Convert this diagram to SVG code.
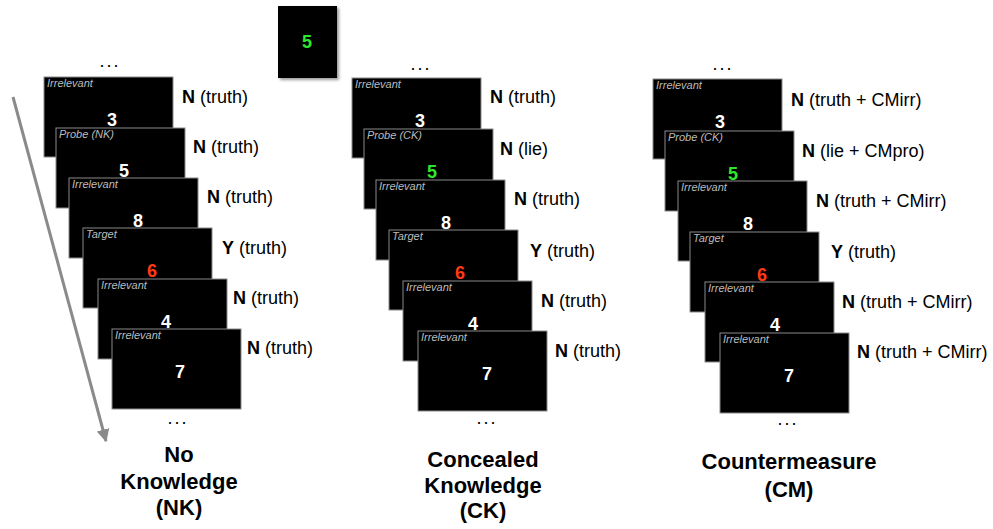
<svg xmlns="http://www.w3.org/2000/svg" width="993" height="529" viewBox="0 0 993 529">
<style>
  text { font-family: "Liberation Sans", Arial, sans-serif; }
  .card { fill: #000; stroke: #8a8a8a; stroke-width: 1; }
  .tag { fill: #bcbcbc; font-size: 11px; font-style: italic; }
  .dig { fill: #fff; font-size: 18px; font-weight: bold; text-anchor: middle; }
  .green { fill: #2ee62e; }
  .red { fill: #ff3a14; }
  .resp { fill: #000; font-size: 18px; }
  .resp tspan.b { font-weight: bold; }
  .dots { fill: #000; font-size: 18px; letter-spacing: 2px; text-anchor: middle; }
  .title { fill: #000; font-size: 22px; font-weight: bold; text-anchor: middle; }
</style>
<defs>
  <marker id="ah" viewBox="0 0 10 10" refX="9" refY="5" markerWidth="4.3" markerHeight="4.3" orient="auto" markerUnits="strokeWidth">
    <path d="M0,0 L10,5 L0,10 z" fill="#8a8a8a"/>
  </marker>
  <filter id="sh" x="-20%" y="-20%" width="150%" height="150%">
    <feDropShadow dx="2" dy="2" stdDeviation="1.5" flood-color="#000" flood-opacity="0.4"/>
  </filter>
</defs>
<rect width="993" height="529" fill="#fff"/>

<g id="connectors">
  <line x1="13" y1="97" x2="106" y2="441" stroke="#8a8a8a" stroke-width="3" marker-end="url(#ah)"/>
</g>

<g id="cue">
  <rect x="278" y="6" width="59" height="72" fill="#000" filter="url(#sh)"/>
  <text class="dig green" x="307" y="48">5</text>
</g>

<!-- Left column: No Knowledge -->
<g id="nk">
  <text class="dots" x="110" y="67">...</text>
  <g id="nk1"><rect class="card" x="44" y="77" width="129" height="80"/><text class="tag" x="47" y="87">Irrelevant</text><text class="dig" x="112" y="126">3</text><text class="resp" x="182" y="103"><tspan class="b">N</tspan> (truth)</text></g>
  <g id="nk2"><rect class="card" x="56" y="128" width="129" height="80"/><text class="tag" x="59" y="138">Probe (NK)</text><text class="dig" x="124" y="177">5</text><text class="resp" x="193" y="153"><tspan class="b">N</tspan> (truth)</text></g>
  <g id="nk3"><rect class="card" x="69" y="178" width="129" height="80"/><text class="tag" x="72" y="188">Irrelevant</text><text class="dig" x="138" y="227">8</text><text class="resp" x="207" y="203"><tspan class="b">N</tspan> (truth)</text></g>
  <g id="nk4"><rect class="card" x="83" y="228" width="129" height="80"/><text class="tag" x="86" y="238">Target</text><text class="dig red" x="152" y="277">6</text><text class="resp" x="222" y="254"><tspan class="b">Y</tspan> (truth)</text></g>
  <g id="nk5"><rect class="card" x="98" y="279" width="129" height="80"/><text class="tag" x="101" y="289">Irrelevant</text><text class="dig" x="166" y="328">4</text><text class="resp" x="233" y="304"><tspan class="b">N</tspan> (truth)</text></g>
  <g id="nk6"><rect class="card" x="112" y="329" width="129" height="80"/><text class="tag" x="115" y="339">Irrelevant</text><text class="dig" x="180" y="378">7</text><text class="resp" x="247" y="354"><tspan class="b">N</tspan> (truth)</text></g>
  <text class="dots" x="178" y="424">...</text>
  <text class="title" x="179" y="462">No</text>
  <text class="title" x="179" y="489">Knowledge</text>
  <text class="title" x="179" y="515">(NK)</text>
</g>

<!-- Middle column: Concealed Knowledge -->
<g id="ck">
  <text class="dots" x="421" y="70">...</text>
  <g id="ck1"><rect class="card" x="352" y="78" width="129" height="80"/><text class="tag" x="355" y="88">Irrelevant</text><text class="dig" x="420" y="127">3</text><text class="resp" x="490" y="103"><tspan class="b">N</tspan> (truth)</text></g>
  <g id="ck2"><rect class="card" x="364" y="129" width="129" height="80"/><text class="tag" x="367" y="139">Probe (CK)</text><text class="dig green" x="432" y="178">5</text><text class="resp" x="500" y="155"><tspan class="b">N</tspan> (lie)</text></g>
  <g id="ck3"><rect class="card" x="376" y="180" width="129" height="80"/><text class="tag" x="379" y="190">Irrelevant</text><text class="dig" x="446" y="229">8</text><text class="resp" x="514" y="205"><tspan class="b">N</tspan> (truth)</text></g>
  <g id="ck4"><rect class="card" x="389" y="230" width="129" height="80"/><text class="tag" x="392" y="240">Target</text><text class="dig red" x="460" y="279">6</text><text class="resp" x="530" y="257"><tspan class="b">Y</tspan> (truth)</text></g>
  <g id="ck5"><rect class="card" x="403" y="281" width="129" height="80"/><text class="tag" x="406" y="291">Irrelevant</text><text class="dig" x="473" y="330">4</text><text class="resp" x="541" y="307"><tspan class="b">N</tspan> (truth)</text></g>
  <g id="ck6"><rect class="card" x="418" y="331" width="129" height="80"/><text class="tag" x="421" y="341">Irrelevant</text><text class="dig" x="487" y="380">7</text><text class="resp" x="555" y="357"><tspan class="b">N</tspan> (truth)</text></g>
  <text class="dots" x="487" y="424">...</text>
  <text class="title" x="483" y="467">Concealed</text>
  <text class="title" x="483" y="493">Knowledge</text>
  <text class="title" x="483" y="518">(CK)</text>
</g>

<!-- Right column: Countermeasure -->
<g id="cm">
  <text class="dots" x="723" y="70">...</text>
  <g id="cm1"><rect class="card" x="653" y="79" width="129" height="80"/><text class="tag" x="656" y="89">Irrelevant</text><text class="dig" x="720" y="128">3</text><text class="resp" x="791" y="106"><tspan class="b">N</tspan> (truth + CMirr)</text></g>
  <g id="cm2"><rect class="card" x="665" y="131" width="129" height="80"/><text class="tag" x="668" y="141">Probe (CK)</text><text class="dig green" x="733" y="180">5</text><text class="resp" x="802" y="157"><tspan class="b">N</tspan> (lie + CMpro)</text></g>
  <g id="cm3"><rect class="card" x="678" y="181" width="129" height="80"/><text class="tag" x="681" y="191">Irrelevant</text><text class="dig" x="748" y="230">8</text><text class="resp" x="816" y="207"><tspan class="b">N</tspan> (truth + CMirr)</text></g>
  <g id="cm4"><rect class="card" x="690" y="232" width="129" height="80"/><text class="tag" x="693" y="242">Target</text><text class="dig red" x="762" y="281">6</text><text class="resp" x="831" y="258"><tspan class="b">Y</tspan> (truth)</text></g>
  <g id="cm5"><rect class="card" x="705" y="282" width="129" height="80"/><text class="tag" x="708" y="292">Irrelevant</text><text class="dig" x="775" y="331">4</text><text class="resp" x="842" y="308"><tspan class="b">N</tspan> (truth + CMirr)</text></g>
  <g id="cm6"><rect class="card" x="720" y="333" width="129" height="80"/><text class="tag" x="723" y="343">Irrelevant</text><text class="dig" x="789" y="382">7</text><text class="resp" x="857" y="358"><tspan class="b">N</tspan> (truth + CMirr)</text></g>
  <text class="dots" x="788" y="425">...</text>
  <text class="title" x="789" y="469">Countermeasure</text>
  <text class="title" x="789" y="497">(CM)</text>
</g>
</svg>
